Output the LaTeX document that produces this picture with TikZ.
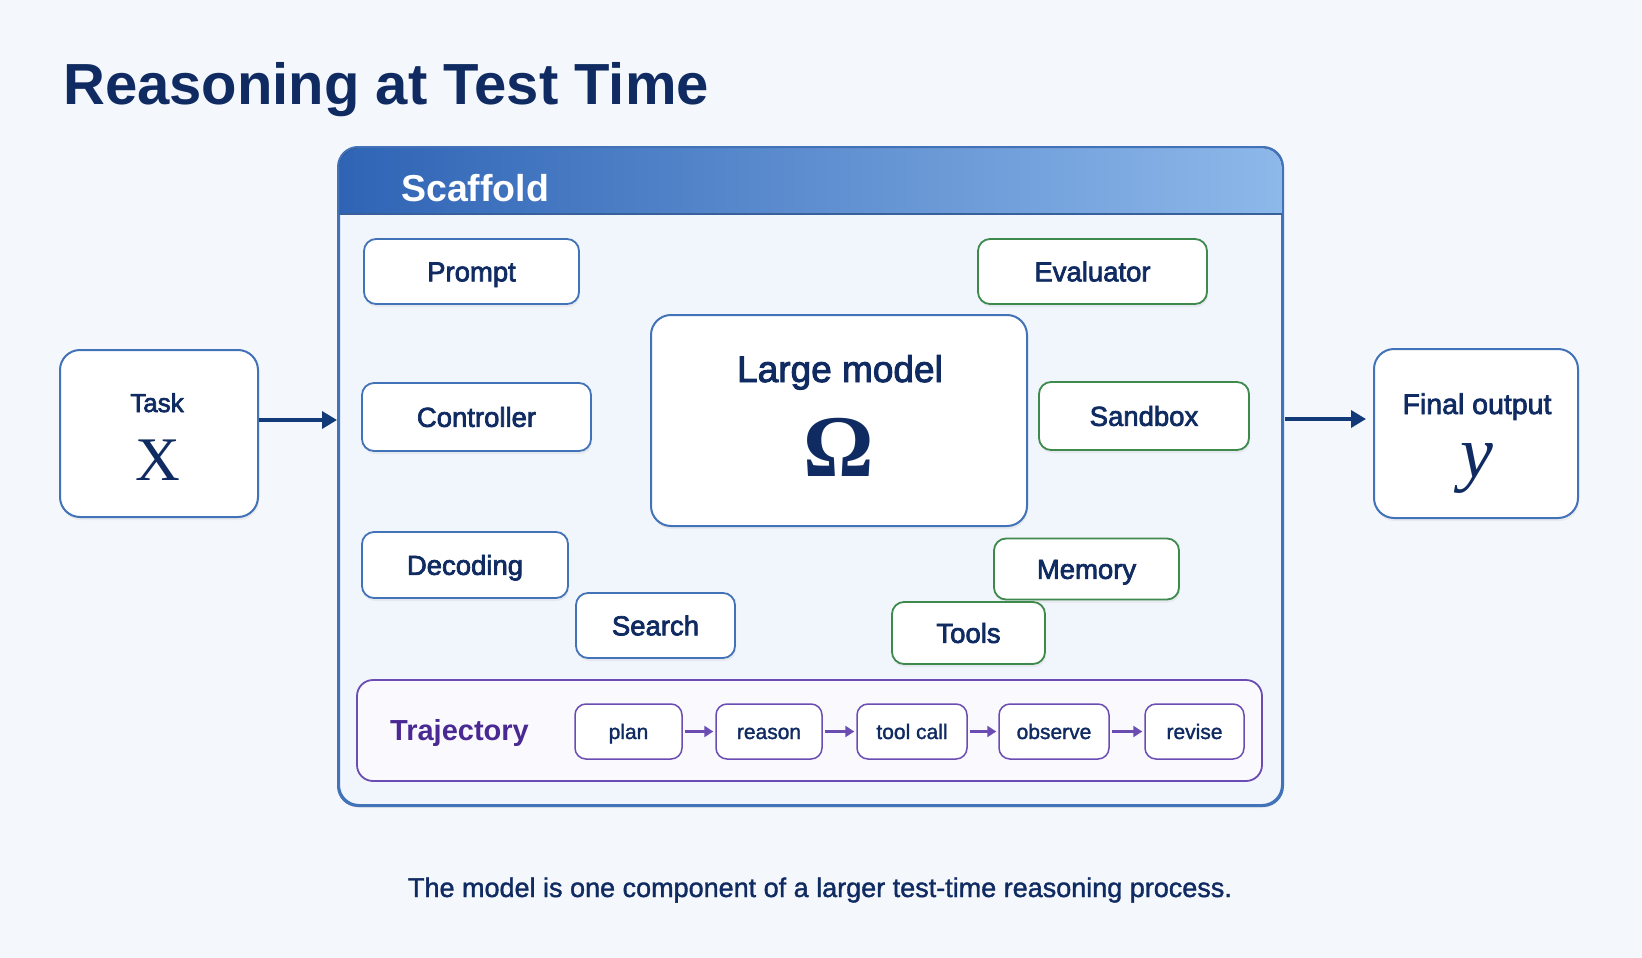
\RequirePackage{fix-cm}
\documentclass[tikz,border=0pt]{standalone}
\usepackage[no-math]{fontspec}
\setmainfont{Liberation Sans}
\newfontfamily\medfont{Liberation Sans}[FakeBold=2.6]
\newfontfamily\lightmed{Liberation Sans}[FakeBold=1.4]
\newfontfamily\serifsym{Liberation Serif}
\newfontfamily\serifbold{Liberation Serif Bold}
\newfontfamily\serifit{Liberation Serif Italic}
\usetikzlibrary{arrows.meta,shadows}
\definecolor{navy}{HTML}{0F2B62}
\definecolor{bordblue}{HTML}{4272B8}
\definecolor{bordgreen}{HTML}{3E8A4D}
\definecolor{purp}{HTML}{6A4CB3}
\definecolor{trajtext}{HTML}{4A2A92}
\definecolor{bgc}{HTML}{F4F7FB}
\definecolor{scaffill}{HTML}{F1F5FC}
\definecolor{hdrL}{HTML}{2F64B5}
\definecolor{hdrR}{HTML}{8DB8EA}
\definecolor{trajfill}{HTML}{FAF9FE}
\definecolor{arrowc}{HTML}{123A78}
\tikzset{
  shd/.style={drop shadow={opacity=0.10,shadow xshift=1pt,shadow yshift=-3pt}},
  compbox/.style={draw=bordblue, line width=1.8pt, rounded corners=12pt, fill=white, shd,
    inner sep=0pt, text=navy, font=\medfont\fontsize{27.5}{30}\selectfont,
    text height=19.7pt, text depth=0pt},
  greenbox/.style={compbox, draw=bordgreen},
  bigbox/.style={draw=bordblue, line width=2pt, rounded corners=20pt, fill=white, shd,
    inner sep=0pt, text=navy, align=center},
  stepbox/.style={draw=purp, line width=1.5pt, rounded corners=11pt, fill=white,
    inner sep=0pt, minimum height=55pt, text=navy, font=\lightmed\fontsize{21}{24}\selectfont,
    text height=15pt, text depth=0pt},
  mainarrow/.style={draw=arrowc, line width=3.5pt, -{Triangle[length=15pt,width=17pt]}},
  steparrow/.style={draw=purp, line width=2.2pt, -{Triangle[length=9pt,width=11pt]}, shorten <=2pt, shorten >=2pt},
}
\begin{document}
\begin{tikzpicture}[x=1pt,y=-1pt]
\useasboundingbox (0,0) rectangle (1642,958);
\fill[bgc] (0,0) rectangle (1642,958);

% title
\node[anchor=base west, inner sep=0pt, text=navy, font=\bfseries\fontsize{58}{60}\selectfont] (title) at (63,105) {Reasoning at Test Time};

% scaffold
\node[draw=bordblue, line width=2pt, rounded corners=20pt, fill=scaffill, shd,
      minimum width=943pt, minimum height=657pt, inner sep=0pt] (scaffold) at (810.5,476.5) {};
\fill[left color=hdrL, right color=hdrR] (339,214) {[rounded corners=20pt] -- (339,148) -- (1282,148)} -- (1282,214) -- cycle;
\draw[bordblue!85!black, line width=1.6pt] (339,214) -- (1282,214);
\draw[bordblue, line width=2pt, rounded corners=20pt] (scaffold.north west) rectangle (scaffold.south east);
\node[anchor=base west, inner sep=0pt, text=white, font=\bfseries\fontsize{37.5}{40}\selectfont] (scaftitle) at (401,201) {Scaffold};

% components
\node[compbox, minimum width=215pt, minimum height=65pt] (prompt) at (471.5,271.5) {Prompt};
\node[greenbox, minimum width=229pt, minimum height=65pt] (evaluator) at (1092.5,271.5) {Evaluator};
\node[compbox, minimum width=229pt, minimum height=68pt] (controller) at (476.5,417) {Controller};
\node[greenbox, minimum width=210pt, minimum height=68pt] (sandbox) at (1144,416) {Sandbox};
\node[compbox, minimum width=206pt, minimum height=66pt] (decoding) at (465,565) {Decoding};
\node[compbox, minimum width=159pt, minimum height=65pt] (search) at (655.5,625.5) {Search};
\node[greenbox, minimum width=185pt, minimum height=61pt] (memory) at (1086.5,569) {Memory};
\node[greenbox, minimum width=153pt, minimum height=62pt] (tools) at (968.5,633) {Tools};

% large model
\node[bigbox, minimum width=376pt, minimum height=211pt] (model) at (839,420.5) {};
\node[anchor=base, inner sep=0pt, text=navy, font=\medfont\fontsize{37}{40}\selectfont] (modeltxt) at (840,382) {Large model};
\node[anchor=base, inner sep=0pt, text=navy, font=\serifbold\fontsize{88}{88}\selectfont] (omega) at (839,476) {Ω};

% task / output
\node[bigbox, minimum width=198pt, minimum height=167pt] (task) at (159,433.5) {};
\node[anchor=base, inner sep=0pt, text=navy, font=\medfont\fontsize{26}{30}\selectfont] (tasktxt) at (157,412) {Task};
\node[anchor=base, inner sep=0pt, text=navy, font=\serifsym\fontsize{62}{62}\selectfont] (xsym) at (157.5,480) {X};
\node[bigbox, minimum width=204pt, minimum height=169pt] (final) at (1476,433.5) {};
\node[anchor=base, inner sep=0pt, text=navy, font=\medfont\fontsize{28.5}{30}\selectfont] (finaltxt) at (1477,414) {Final output};
\node[anchor=base, inner sep=0pt, text=navy, font=\serifit\fontsize{74}{74}\selectfont] (ysym) at (1477,477) {y};

% main arrows
\coordinate (a1) at ([yshift=13.5pt]task.east);
\draw[mainarrow] (a1) -- ([xshift=-1pt]a1 -| scaffold.west);
\coordinate (a2) at ([yshift=14.5pt]final.west);
\draw[mainarrow] ([xshift=2pt]a2 -| scaffold.east) -- ([xshift=-7pt]a2);

% trajectory
\node[draw=purp, line width=1.8pt, rounded corners=16pt, fill=trajfill, inner sep=0pt,
      minimum width=905pt, minimum height=101pt] (traj) at (809.5,730.5) {};
\node[anchor=base west, inner sep=0pt, text=trajtext, font=\bfseries\fontsize{29}{32}\selectfont] (trajtxt) at (390,740) {Trajectory};
\node[stepbox, minimum width=107pt] (plan) at (628.5,731.5) {plan};
\node[stepbox, minimum width=106pt] (reason) at (769,731.5) {reason};
\node[stepbox, minimum width=110pt] (toolcall) at (912,731.5) {tool call};
\node[stepbox, minimum width=110pt] (observe) at (1054,731.5) {observe};
\node[stepbox, minimum width=99pt] (revise) at (1194.5,731.5) {revise};
\draw[steparrow] (plan) -- (reason);
\draw[steparrow] (reason) -- (toolcall);
\draw[steparrow] (toolcall) -- (observe);
\draw[steparrow] (observe) -- (revise);

% caption
\node[anchor=base, inner sep=0pt, text=navy, font=\lightmed\fontsize{27}{30}\selectfont] (caption) at (820,897) {The model is one component of a larger test-time reasoning process.};
\end{tikzpicture}
\end{document}
